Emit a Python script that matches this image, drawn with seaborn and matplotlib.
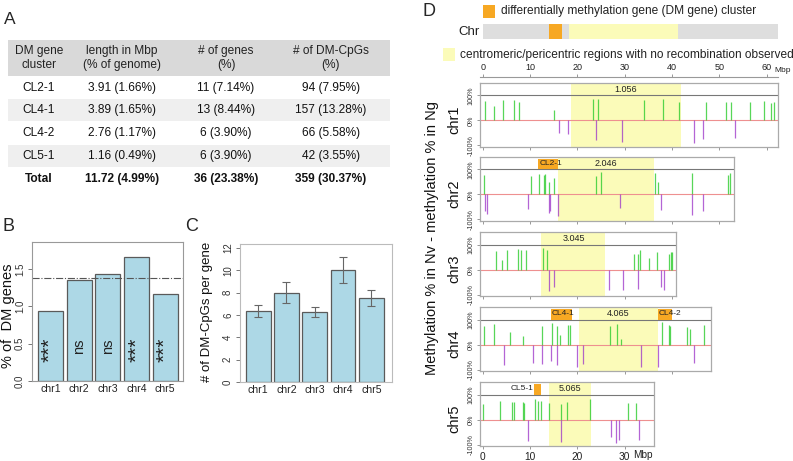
import numpy as np
import pandas as pd
import matplotlib
matplotlib.use("Agg")
import matplotlib.pyplot as plt
import seaborn as sns
from matplotlib.patches import Rectangle

sns.set_style("white")
plt.rcParams['font.family'] = ['Liberation Sans', 'DejaVu Sans']

# ---------------- Panel A table data ----------------
tbl_header = ["DM gene\ncluster", "length in Mbp\n(% of genome)", "# of genes\n(%)", "# of DM-CpGs\n(%)"]
tbl_cluster = ["CL2-1", "CL4-1", "CL4-2", "CL5-1", "Total"]
tbl_length = ["3.91 (1.66%)", "3.89 (1.65%)", "2.76 (1.17%)", "1.16 (0.49%)", "11.72 (4.99%)"]
tbl_genes = ["11 (7.14%)", "13 (8.44%)", "6 (3.90%)", "6 (3.90%)", "36 (23.38%)"]
tbl_cpgs = ["94 (7.95%)", "157 (13.28%)", "66 (5.58%)", "42 (3.55%)", "359 (30.37%)"]

# ---------------- Panel B / C data ----------------
chroms = ["chr1", "chr2", "chr3", "chr4", "chr5"]
dm_gene_pct = [0.94, 1.35, 1.43, 1.66, 1.17]
dm_gene_sig = ["***", "ns", "ns", "***", "***"]
genome_avg_pct = 1.38
cpg_per_gene = [6.37, 8.0, 6.25, 10.04, 7.5]
cpg_err = [0.52, 0.95, 0.44, 1.17, 0.72]

# ---------------- Panel D data ----------------
chr_len = [61.8, 52.5, 40.2, 47.6, 35.6]
cen_start = [18.6, 15.8, 12.4, 20.3, 13.9]
cen_end = [41.9, 36.2, 25.9, 37.0, 22.8]
cen_label = ["1.056", "2.046", "3.045", "4.065", "5.065"]
cl_name = ["CL2-1", "CL4-1", "CL4-2", "CL5-1"]
cl_chrom = [1, 3, 3, 4]
cl_start = [11.7, 14.4, 37.0, 10.85]
cl_end = [15.8, 18.8, 39.9, 12.4]

up_pos = [
    [0.56, 2.4, 4.23, 6.62, 7.68, 15.0, 23.3, 24.4, 34.1, 38.1, 41.4, 47.1, 51.5, 52.5, 56.5, 59.4, 61.0, 61.6],
    [0.21, 10.1, 11.9, 13.0, 13.2, 14.0, 15.1, 23.96, 25.0, 36.4, 37.1, 44.3, 51.9, 52.3],
    [2.82, 4.09, 5.07, 7.47, 8.03, 9.02, 12.75, 13.6, 32.0, 32.8, 33.3, 35.2, 36.8, 39.3, 39.7, 39.9],
    [0.14, 2.4, 5.78, 8.53, 12.6, 14.7, 15.6, 16.4, 18.1, 18.4, 26.9, 28.3, 29.2, 37.8, 39.4, 39.6, 43.2, 43.8, 46.7],
    [0.07, 3.59, 6.27, 6.62, 8.53, 8.74, 11.06, 11.7, 12.2, 13.9, 16.5, 17.8, 22.7, 30.6, 32.3],
]
up_val = [
    [0.76, 0.59, 0.81, 0.83, 0.72, 0.43, 0.85, 0.85, 0.80, 0.87, 0.72, 0.72, 0.73, 0.73, 0.73, 0.76, 0.69, 0.72],
    [0.79, 0.72, 0.80, 0.78, 0.81, 0.49, 0.67, 0.72, 0.88, 0.85, 0.51, 0.84, 0.79, 0.84],
    [0.75, 0.37, 0.80, 0.81, 0.79, 0.77, 0.85, 0.79, 0.61, 0.64, 0.80, 0.48, 0.69, 0.63, 0.71, 0.72],
    [0.76, 0.82, 0.50, 0.34, 0.74, 0.88, 0.74, 0.38, 0.79, 0.79, 0.75, 0.82, 0.24, 0.92, 0.79, 0.75, 0.70, 0.62, 0.79],
    [0.63, 0.76, 0.72, 0.69, 0.69, 0.68, 0.83, 0.75, 0.75, 0.65, 0.64, 0.72, 0.83, 0.67, 0.65],
]
down_pos = [
    [16.1, 18.1, 24.0, 29.5, 44.7, 46.6, 53.3],
    [0.56, 0.92, 9.58, 14.0, 14.3, 15.8, 29.1, 37.6, 44.3, 46.6],
    [14.0, 15.0, 26.6, 29.7, 32.8, 37.6, 38.4],
    [4.37, 10.7, 12.6, 14.5, 15.6, 19.9, 21.1, 33.5, 37.0, 44.7],
    [9.58, 16.5, 27.1, 28.1, 28.8, 33.0],
]
down_val = [
    [-0.51, -0.53, -0.77, -0.87, -0.89, -0.75, -0.71],
    [-0.66, -0.78, -0.57, -0.74, -0.67, -0.86, -0.53, -0.64, -0.84, -0.68],
    [-0.85, -0.69, -0.83, -0.83, -0.77, -0.69, -0.81],
    [-0.82, -0.75, -0.76, -0.66, -0.83, -0.88, -0.76, -0.88, -0.91, -0.75],
    [-0.84, -0.88, -0.69, -0.93, -0.83, -0.80],
]

W, H = 793, 461
fig = plt.figure(figsize=(W / 100, H / 100), dpi=100)


def add_ax(x, y, w, h):
    return fig.add_axes([x / W, 1 - (y + h) / H, w / W, h / H])


# overlay axes in pixel coordinates
ov = fig.add_axes([0, 0, 1, 1])
ov.set_xlim(0, W)
ov.set_ylim(H, 0)
ov.axis("off")
ov.patch.set_alpha(0)

# ---------------- Panel A ----------------
ov.text(4, 19, "A", fontsize=12.5, va="center", ha="left")
ov.add_patch(Rectangle((8, 40), 382, 36, color="#d9d9d9", lw=0))
row_y = [88, 110, 133, 156, 179]
row_h = 22.7
for i, yc in enumerate(row_y):
    if i % 2 == 1:
        ov.add_patch(Rectangle((8, yc - row_h / 2), 382, row_h, color="#efefef", lw=0))
col_x = [39, 122, 226, 331]
for cx, htxt in zip(col_x, tbl_header):
    ov.text(cx, 58, htxt, ha="center", va="center", fontsize=8.6, color="#222", linespacing=1.25)
for i, yc in enumerate(row_y):
    bold = "bold" if tbl_cluster[i] == "Total" else "normal"
    for cx, vals in zip(col_x, [tbl_cluster, tbl_length, tbl_genes, tbl_cpgs]):
        ov.text(cx, yc, vals[i], ha="center", va="center", fontsize=8.6, color="#111", fontweight=bold)

# ---------------- Panel B ----------------
ov.text(3, 226, "B", fontsize=13, va="center", ha="left")
axB = add_ax(32, 242, 151, 139)
sns.barplot(x=chroms, y=dm_gene_pct, ax=axB, color="#add8e6", saturation=1,
            width=0.87, edgecolor="#5a5a5a", linewidth=0.9)
axB.set_xlim(-0.64, 4.62)
axB.set_ylim(0, 1.86)
axB.axhline(genome_avg_pct, color="#555555", lw=0.8, ls="-.")
for i, s in enumerate(dm_gene_sig):
    fs = 15 if s.startswith("*") else 10.5
    yy = 0.42 if s.startswith("*") else 0.47
    axB.text(i, yy, s, rotation=90, ha="center", va="center", fontsize=fs, color="#222")
axB.set_yticks([0, 0.5, 1.0, 1.5])
axB.set_yticklabels(["0.0", "0.5", "1.0", "1.5"], rotation=90, va="center", fontsize=7, color="#333")
axB.tick_params(axis="y", length=3, width=0.7, color="#777", pad=2, left=True)
axB.tick_params(axis="x", length=0, labelsize=7.6, pad=2, labelcolor="#222")
axB.set_xlabel("")
axB.set_ylabel("")
for sp in axB.spines.values():
    sp.set_color("#999999")
    sp.set_linewidth(0.8)
ov.text(8, 316, "% of  DM genes", rotation=90, ha="center", va="center", fontsize=10.5, color="#111")

# ---------------- Panel C ----------------
ov.text(185, 226, "C", fontsize=13, va="center", ha="left")
axC = add_ax(240, 244, 152, 138)
sns.barplot(x=chroms, y=cpg_per_gene, ax=axC, color="#add8e6", saturation=1,
            width=0.88, edgecolor="#5a5a5a", linewidth=0.9)
axC.errorbar(np.arange(len(chroms)), cpg_per_gene, yerr=cpg_err, fmt="none",
             ecolor="#666666", elinewidth=0.8, capsize=3, capthick=0.8)
axC.set_xlim(-0.64, 4.73)
axC.set_ylim(0, 12.36)
axC.set_yticks([0, 2, 4, 6, 8, 10, 12])
axC.set_yticklabels(["0", "2", "4", "6", "8", "10", "12"], rotation=90, va="center", fontsize=7, color="#333")
axC.tick_params(axis="y", length=3, width=0.7, color="#777", pad=2, left=True)
axC.tick_params(axis="x", length=0, labelsize=7.6, pad=2, labelcolor="#222")
axC.set_xlabel("")
axC.set_ylabel("")
for sp in axC.spines.values():
    sp.set_color("#bbbbbb")
    sp.set_linewidth(0.8)
ov.text(207, 312, "# of DM-CpGs per gene", rotation=90, ha="center", va="center", fontsize=9.5, color="#111")

# ---------------- Panel D ----------------
ov.text(423, 12, "D", fontsize=13, va="center", ha="left")
ORANGE = "#f7a823"
YELLOW = "#fbfbb9"
ov.add_patch(Rectangle((483, 5), 12, 13, color=ORANGE, lw=0))
ov.text(501, 11, "differentially methylation gene (DM gene) cluster", fontsize=8.6, va="center", ha="left", color="#222")
ov.text(458, 32, "Chr", fontsize=9.5, va="center", ha="left", color="#222")
ov.add_patch(Rectangle((483, 24), 295, 15, color="#dedede", lw=0))
ov.add_patch(Rectangle((549, 24), 13, 15, color=ORANGE, lw=0))
ov.add_patch(Rectangle((569, 24), 109, 15, color=YELLOW, lw=0))
ov.add_patch(Rectangle((443, 48), 12, 13, color=YELLOW, lw=0))
ov.text(460, 55, "centromeric/pericentric regions with no recombination observed", fontsize=8.6,
        va="center", ha="left", color="#222")
ov.text(432, 238, "Methylation % in Nv - methylation % in Ng", rotation=90, ha="center", va="center",
        fontsize=10.5, color="#111")

pxmb = 4.73
tops = [83, 157, 232, 307, 382]
GREEN = "#2ecc2e"
PURPLE = "#9b32c8"
for i, ch in enumerate(chroms):
    L = chr_len[i]
    ax = add_ax(480, tops[i], (L + 1.2) * pxmb, 64)
    ax.set_xlim(-0.6, L + 0.6)
    ax.set_ylim(-1.06, 1.5)
    ax.axvspan(cen_start[i], cen_end[i], color=YELLOW, lw=0, zorder=0)
    ax.axhline(1, color="#777777", lw=0.8, zorder=1)
    ax.axhline(0, color="#ee9090", lw=0.8, zorder=1)
    ax.vlines(up_pos[i], 0, up_val[i], color=GREEN, lw=0.9, alpha=0.8, zorder=2)
    ax.vlines(down_pos[i], 0, down_val[i], color=PURPLE, lw=0.9, alpha=0.75, zorder=2)
    ax.text((cen_start[i] + cen_end[i]) / 2, 1.23, cen_label[i], ha="center", va="center",
            fontsize=6.5, color="#222")
    for k in range(len(cl_name)):
        if cl_chrom[k] != i:
            continue
        ax.fill_between([cl_start[k], cl_end[k]], 1.0, 1.42, color=ORANGE, lw=0, zorder=1.5)
        if cl_end[k] - cl_start[k] < 2:
            ax.text(cl_start[k] - 0.2, 1.23, cl_name[k], ha="right", va="center", fontsize=6, color="#222")
        else:
            ax.text(cl_start[k] + 0.2, 1.23, cl_name[k], ha="left", va="center", fontsize=6, color="#222")
    ax.set_yticks([-1, 0, 1])
    ax.set_yticklabels(["-100%", "0%", "100%"], rotation=90, va="center", fontsize=5.2, color="#333")
    ax.set_xticks(np.arange(0, L + 0.01, 10))
    ax.tick_params(axis="both", length=2.5, width=0.6, color="#888", pad=1.5, left=True, bottom=True)
    if i == len(chroms) - 1:
        ax.set_xticklabels([str(int(t)) for t in np.arange(0, L + 0.01, 10)], fontsize=7.3, color="#222")
    else:
        ax.set_xticklabels([])
    for sp in ax.spines.values():
        sp.set_color("#aaaaaa")
        sp.set_linewidth(0.9)
    ov.text(454, tops[i] + 37, ch, rotation=90, ha="center", va="center", fontsize=10.5, color="#111")

    if i == 0:
        axr = add_ax(480, 77.5, (L + 1.2) * pxmb, 0.5)
        axr.set_xlim(-0.6, L + 0.6)
        axr.set_ylim(0, 1)
        for s in ["left", "right", "bottom"]:
            axr.spines[s].set_visible(False)
        axr.spines["top"].set_color("#999999")
        axr.spines["top"].set_linewidth(0.8)
        axr.set_yticks([])
        axr.xaxis.tick_top()
        axr.set_xticks(np.arange(0, 61, 10))
        axr.set_xticklabels([str(t) for t in range(0, 61, 10)], fontsize=6.5, color="#222")
        axr.tick_params(axis="x", top=True, length=2.5, width=0.6, color="#888", pad=1.5)
        axr.patch.set_alpha(0)

ov.text(783, 71, "Mbp", fontsize=6, ha="center", va="center", color="#222")
ov.text(643, 455, "Mbp", fontsize=7.3, ha="center", va="center", color="#222")

fig.savefig("out.png", dpi=100)
